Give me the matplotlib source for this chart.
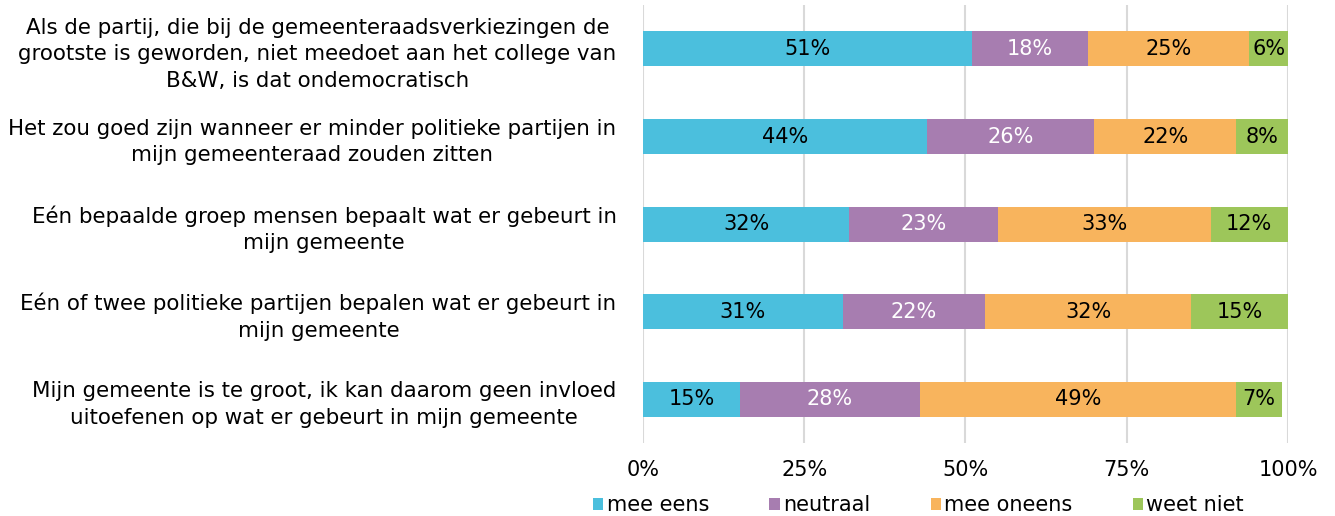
import matplotlib.pyplot as plt
import numpy as np

# ==================================================
# DATA
# ==================================================
statements = [
    "Als de partij, die bij de gemeenteraadsverkiezingen de\ngrootste is geworden, niet meedoet aan het college van\nB&W, is dat ondemocratisch",
    "Het zou goed zijn wanneer er minder politieke partijen in\nmijn gemeenteraad zouden zitten",
    "Eén bepaalde groep mensen bepaalt wat er gebeurt in\nmijn gemeente",
    "Eén of twee politieke partijen bepalen wat er gebeurt in\nmijn gemeente",
    "Mijn gemeente is te groot, ik kan daarom geen invloed\nuitoefenen op wat er gebeurt in mijn gemeente",
]
series_names = ["mee eens", "neutraal", "mee oneens", "weet niet"]
mee_eens = [51, 44, 32, 31, 15]
neutraal = [18, 26, 23, 22, 28]
mee_oneens = [25, 22, 33, 32, 49]
weet_niet = [6, 8, 12, 15, 7]
x_ticks = [0, 25, 50, 75, 100]

# ==================================================
# STYLE
# ==================================================
colors = ["#4BBFDD", "#A77DB0", "#F8B45D", "#9DC65A"]
text_colors = ["black", "white", "black", "black"]
plt.rcParams['font.family'] = ['DejaVu Sans']
fs = 15
fs_lab = 15.4

fig = plt.figure(figsize=(13.35, 5.16), dpi=100)
ax = fig.add_axes([0.4816, 0.1415, 0.4832, 0.8485])

y = np.arange(len(statements))
left = np.zeros(len(statements))
for name, vals, col, tcol in zip(series_names,
                                 [mee_eens, neutraal, mee_oneens, weet_niet],
                                 colors, text_colors):
    vals = np.array(vals, dtype=float)
    bars = ax.barh(y, vals, left=left, height=0.4, color=col, label=name, zorder=3)
    for b, v in zip(bars, vals):
        ax.text(b.get_x() + b.get_width() / 2, b.get_y() + b.get_height() / 2,
                f"{int(v)}%", ha='center', va='center', color=tcol, fontsize=fs, zorder=4)
    left += vals

ax.set_xlim(0, 100)
ax.set_ylim(4.5, -0.5)
ax.set_xticks(x_ticks)
ax.set_xticklabels([f"{t}%" for t in x_ticks], fontsize=fs)
ax.set_yticks(y)
ax.set_yticklabels(statements, fontsize=fs_lab, multialignment='center', linespacing=1.41)
ax.tick_params(axis='both', length=0)
ax.tick_params(axis='x', pad=12)
ax.tick_params(axis='y', pad=19)
ax.grid(axis='x', color='#D9D9D9', linewidth=1.5, zorder=0)
for s in ax.spines.values():
    s.set_visible(False)

fig.legend(loc='center', bbox_to_anchor=(0.688, 1 - 505 / 516), ncol=4, frameon=False,
           fontsize=fs, handlelength=0.5, handleheight=0.5, handletextpad=0.15,
           columnspacing=2.9, borderaxespad=0, borderpad=0)

fig.savefig("out.png", dpi=100)
